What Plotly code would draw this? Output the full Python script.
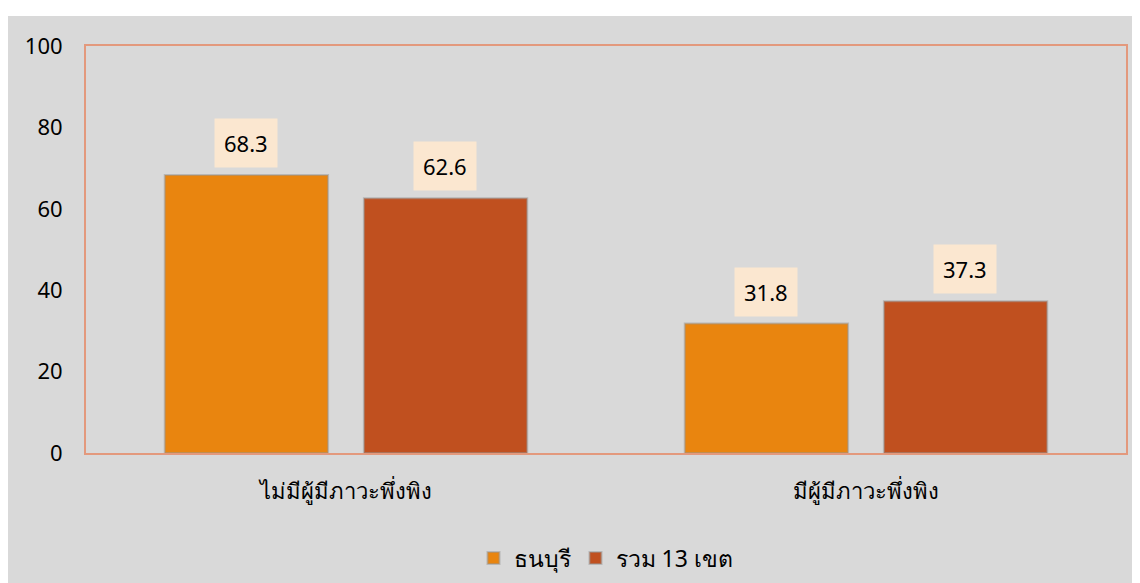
import plotly.graph_objects as go

categories = ["ไม่มีผู้มีภาวะพึ่งพิง", "มีผู้มีภาวะพึ่งพิง"]
series_names = ["ธนบุรี", "รวม 13 เขต"]
thonburi = [68.3, 31.8]
total13 = [62.6, 37.3]
series_values = [thonburi, total13]
colors = ["#E9850F", "#C0501F"]
label_shift = [-100, 99]
y_ticks = [0, 20, 40, 60, 80, 100]

FONT = "Noto Sans, DejaVu Sans, sans-serif"

fig = go.Figure()
for name, vals, col in zip(series_names, series_values, colors):
    fig.add_trace(go.Bar(
        x=categories, y=vals, name=name,
        marker=dict(color=col, line=dict(color="rgba(150,150,150,0.5)", width=2)),
    ))

for vals, xs in zip(series_values, label_shift):
    for c, v in zip(categories, vals):
        fig.add_annotation(
            x=c, y=v, xref="x", yref="y", text=f"{v:.1f}",
            showarrow=False, xshift=xs, yanchor="bottom", yshift=7,
            bgcolor="#FBE7D0", borderpad=9,
            font=dict(family=FONT, size=22, color="#000000"),
        )

# white strip at top of the chart canvas
fig.add_shape(type="rect", xref="paper", yref="paper",
              x0=-0.2, x1=1.2, y0=1.074, y1=1.2,
              fillcolor="white", line=dict(width=0), layer="below")

fig.update_layout(
    width=1140, height=583,
    margin=dict(l=78, r=22, t=38, b=121),
    paper_bgcolor="#D9D9D9", plot_bgcolor="#D9D9D9",
    barmode="group", bargap=0.234, bargroupgap=0.18,
    font=dict(family=FONT, size=22, color="#000000"),
    showlegend=True,
    legend=dict(orientation="h", x=0.5, xanchor="center", y=-0.205, yanchor="top",
                font=dict(size=23), itemwidth=30, bgcolor="rgba(0,0,0,0)"),
    xaxis=dict(showline=True, linecolor="#E3997D", linewidth=2, mirror=True,
               ticks="", ticklabelstandoff=18, showgrid=False,
               tickfont=dict(size=22)),
    yaxis=dict(range=[0, 100], tickvals=y_ticks, showline=True, linecolor="#E3997D",
               linewidth=2, mirror=True, showgrid=False, zeroline=False,
               ticks="", ticklabelstandoff=17, tickfont=dict(size=22)),
)

fig.write_html("out.html")
